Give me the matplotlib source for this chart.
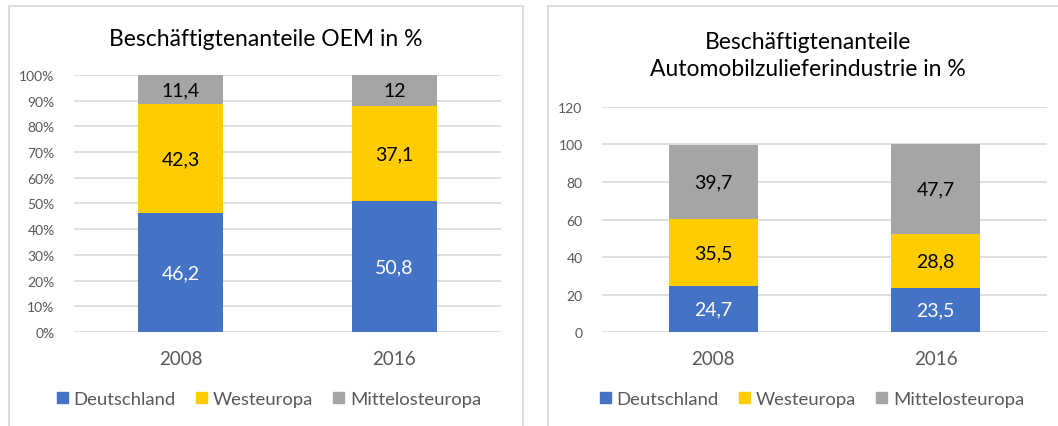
import matplotlib.pyplot as plt
from matplotlib.patches import Rectangle
import numpy as np

plt.rcParams['font.family'] = ['Lato', 'DejaVu Sans']

years = ['2008', '2016']
series = ['Deutschland', 'Westeuropa', 'Mittelosteuropa']
colors = ['#4472C4', '#FFCC00', '#A5A5A5']

oem_de = [46.2, 50.8]
oem_we = [42.3, 37.1]
oem_mo = [11.4, 12]

zul_de = [24.7, 23.5]
zul_we = [35.5, 28.8]
zul_mo = [39.7, 47.7]

W, H = 1058, 427
fig = plt.figure(figsize=(W / 100, H / 100), dpi=100)

# panel frames
for x0, x1 in [(9, 523), (548, 1070)]:
    fig.patches.append(Rectangle((x0 / W, -0.1), (x1 - x0) / W, (H - 7) / H + 0.1,
                                 transform=fig.transFigure, fill=False,
                                 edgecolor='#D9D9D9', linewidth=1.3))


def fmt(v):
    return f'{v:g}'.replace('.', ',')


def draw(ax, data, labels_txt, ymax, step, pct):
    x = np.arange(len(years))
    bottom = np.zeros(len(years))
    for vals, raw, col in zip(data, labels_txt, colors):
        bars = ax.bar(x, vals, 0.4, bottom=bottom, color=col, zorder=3)
        tc = 'white' if col == colors[0] else 'black'
        ax.bar_label(bars, labels=[fmt(v) for v in raw], label_type='center',
                     color=tc, fontsize=14)
        bottom += np.array(vals)
    ax.set_xlim(-0.5, 1.5)
    ax.set_ylim(0, ymax)
    ticks = np.arange(0, ymax + step / 2, step)
    ax.set_yticks(ticks)
    if pct:
        ax.set_yticklabels([f'{int(t * 100)}%' for t in ticks])
    ax.set_xticks(x)
    ax.set_xticklabels(years)
    ax.grid(axis='y', color='#D9D9D9', linewidth=1.2, zorder=0)
    for s in ax.spines.values():
        s.set_visible(False)
    ax.tick_params(axis='y', length=0, pad=14, labelsize=10, labelcolor='#595959')
    ax.tick_params(axis='x', length=0, pad=13, labelsize=13.5, labelcolor='#595959')


# left: 100 % stacked
oem = np.array([oem_de, oem_we, oem_mo])
oem_n = oem / oem.sum(axis=0)
ax1 = fig.add_axes([74 / W, 0.2201, 427 / W, 0.602])
draw(ax1, oem_n, oem, 1.0, 0.1, True)

# right: stacked values
zul = np.array([zul_de, zul_we, zul_mo])
ax2 = fig.add_axes([602 / W, 0.2201, 445 / W, 0.527])
draw(ax2, zul, zul, 120, 20, False)

fig.text(266 / W, 1 - 40 / H, 'Beschäftigtenanteile OEM in %', ha='center', va='center',
         fontsize=16.5, color='black')
fig.text(808 / W, 1 - 56 / H, 'Beschäftigtenanteile\nAutomobilzulieferindustrie in %',
         ha='center', va='center', fontsize=16.5, color='black', linespacing=1.35)

handles = [Rectangle((0, 0), 1, 1, color=c) for c in colors]
for cx in (269, 812):
    leg = fig.legend(handles, series, loc='center', bbox_to_anchor=(cx / W, 1 - 400 / H),
                     ncol=3, frameon=False, handlelength=0.6, handleheight=0.6,
                     handletextpad=0.3, columnspacing=1.1, fontsize=13.3)
    for t in leg.get_texts():
        t.set_color('#595959')

fig.savefig('out.png', dpi=100)
